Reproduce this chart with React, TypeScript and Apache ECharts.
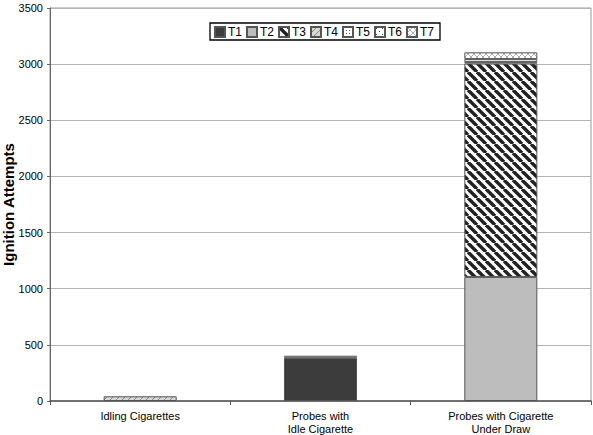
import * as echarts from "echarts";
import { useEffect, useRef } from "react";

const categories = [
  "Idling Cigarettes",
  "Probes with\nIdle Cigarette",
  "Probes with Cigarette\nUnder Draw",
];
const seriesNames = ["T1", "T2", "T3", "T4", "T5", "T6", "T7"];
const t1 = [null, 385, null];
const t2 = [null, null, 1105];
const t3 = [null, null, 1900];
const t4 = [42, null, null];
const t5 = [null, 18, 15];
const t6 = [null, null, 25];
const t7 = [null, null, 60];

const FONT = "'Liberation Sans', Arial, sans-serif";

function makeTile(size: number, draw: (ctx: CanvasRenderingContext2D, s: number) => void) {
  const c = document.createElement("canvas");
  c.width = size;
  c.height = size;
  const ctx = c.getContext("2d")!;
  ctx.fillStyle = "#ffffff";
  ctx.fillRect(0, 0, size, size);
  draw(ctx, size);
  return { image: c, repeat: "repeat" as const };
}

function fills() {
  // T3: heavy "\" stripes
  const stripes = makeTile(9, (ctx, s) => {
    ctx.strokeStyle = "#222";
    ctx.lineWidth = 3.4;
    for (let k = -1; k <= 1; k++) {
      ctx.beginPath();
      ctx.moveTo(k * s, 0);
      ctx.lineTo(k * s + s, s);
      ctx.stroke();
    }
  });
  // T4: light "/" hatch
  const hatch = makeTile(6, (ctx, s) => {
    ctx.fillStyle = "#d8d8d8";
    ctx.fillRect(0, 0, s, s);
    ctx.strokeStyle = "#888";
    ctx.lineWidth = 1;
    for (let k = -1; k <= 1; k++) {
      ctx.beginPath();
      ctx.moveTo(k * s, s);
      ctx.lineTo(k * s + s, 0);
      ctx.stroke();
    }
  });
  // T5: fine dots
  const dots = makeTile(3, (ctx) => {
    ctx.fillStyle = "#555";
    ctx.fillRect(0, 0, 1, 1);
  });
  // T6: sparse dots
  const sparse = makeTile(6, (ctx) => {
    ctx.fillStyle = "#444";
    ctx.fillRect(1, 1, 1, 1);
    ctx.fillRect(4, 4, 1, 1);
  });
  // T7: light crosshatch
  const cross = makeTile(6, (ctx, s) => {
    ctx.strokeStyle = "#999";
    ctx.lineWidth = 0.8;
    ctx.beginPath();
    ctx.moveTo(0, 0);
    ctx.lineTo(s, s);
    ctx.moveTo(s, 0);
    ctx.lineTo(0, s);
    ctx.stroke();
  });
  return ["#3c3c3c", "#bdbdbd", stripes, hatch, dots, sparse, cross];
}

export default function App() {
  const chartRef = useRef<HTMLDivElement | null>(null);

  useEffect(() => {
    document.body.style.margin = "0";
    const el = chartRef.current;
    if (!el) return;
    const chart = echarts.init(el, undefined, { renderer: "svg" });
    const colors = fills();
    const values = [t1, t2, t3, t4, t5, t6, t7];

    const option: echarts.EChartsOption = {
      animation: false,
      textStyle: { fontFamily: FONT },
      // frame drawn around the legend
      graphic: [
        {
          type: "rect",
          z: 3,
          silent: true,
          shape: { x: 210, y: 23, width: 230, height: 17 },
          style: { fill: "#ffffff", stroke: "#000000", lineWidth: 1.3 },
        },
      ],
      legend: {
        data: seriesNames,
        left: 214,
        top: 26,
        z: 10,
        orient: "horizontal",
        itemWidth: 10,
        itemHeight: 10,
        itemGap: 4,
        padding: 0,
        icon: "rect",
        textStyle: {
          fontSize: 12,
          color: "#000",
          fontFamily: FONT,
          padding: [0, 0, 0, -2],
        },
      },
      grid: {
        left: 50,
        right: 2,
        top: 8,
        bottom: 34,
        outerBoundsMode: "none",
        show: true,
        borderColor: "#999",
        borderWidth: 1,
      } as any,
      xAxis: {
        type: "category",
        data: categories,
        axisLine: { lineStyle: { color: "#555", width: 1.5 } },
        axisTick: { show: true, length: 4, lineStyle: { color: "#555" } },
        axisLabel: {
          fontSize: 11,
          color: "#000",
          fontFamily: FONT,
          margin: 8,
          lineHeight: 13,
        },
      },
      yAxis: {
        type: "value",
        min: 0,
        max: 3500,
        interval: 500,
        name: "Ignition Attempts",
        nameLocation: "middle",
        nameGap: 34,
        nameMoveOverlap: false,
        nameTextStyle: {
          fontSize: 15,
          fontWeight: "bold",
          color: "#000",
          fontFamily: FONT,
        },
        axisLine: { show: true, lineStyle: { color: "#666" } },
        axisTick: { show: true, length: 3, lineStyle: { color: "#666" } },
        axisLabel: {
          fontSize: 11,
          color: "#000",
          fontFamily: FONT,
          margin: 7,
          formatter: (v: number) => String(v),
        },
        splitLine: { lineStyle: { color: "#b4b4b4" } },
      } as any,
      series: seriesNames.map((name, i) => ({
        name,
        type: "bar" as const,
        stack: "total",
        barWidth: "40.5%",
        data: values[i],
        itemStyle: {
          color: colors[i] as any,
          borderColor: "#555",
          borderWidth: 1,
        },
      })),
    };

    chart.setOption(option);
    return () => {
      if (!chart.isDisposed()) chart.dispose();
    };
  }, []);

  return <div ref={chartRef} style={{ width: 593, height: 435 }} />;
}
